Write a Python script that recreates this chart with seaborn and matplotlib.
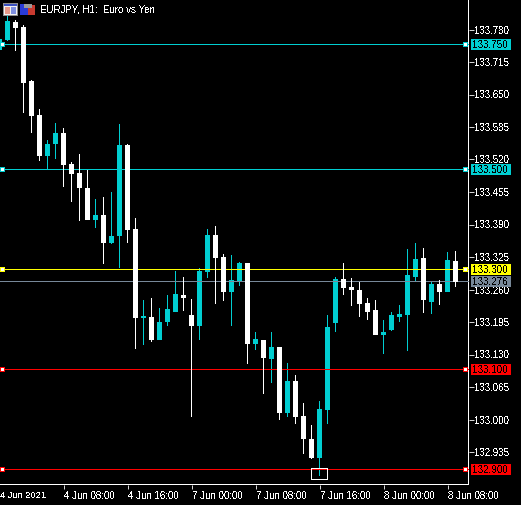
import numpy as np
import pandas as pd
import matplotlib
matplotlib.use("Agg")
import matplotlib.pyplot as plt
from matplotlib.patches import Rectangle
import seaborn as sns

# EURJPY H1 candles
body_high = [133.797, 133.795, 133.785, 133.677, 133.609, 133.551, 133.573, 133.573, 133.511, 133.493,
             133.463, 133.409, 133.409, 133.367, 133.549, 133.549, 133.381, 133.207, 133.205, 133.195,
             133.221, 133.251, 133.249, 133.209, 133.297, 133.369, 133.369, 133.325, 133.279, 133.313,
             133.313, 133.161, 133.159, 133.145, 133.145, 133.077, 133.077, 133.007, 132.961, 133.021,
             133.185, 133.281, 133.281, 133.265, 133.259, 133.233, 133.219, 133.175, 133.209, 133.211,
             133.289, 133.321, 133.323, 133.271, 133.271, 133.319, 133.317]
body_low = [133.759, 133.783, 133.673, 133.607, 133.527, 133.527, 133.551, 133.509, 133.491, 133.463,
            133.399, 133.399, 133.353, 133.353, 133.367, 133.379, 133.203, 133.203, 133.159, 133.159,
            133.195, 133.215, 133.243, 133.187, 133.187, 133.295, 133.323, 133.255, 133.255, 133.275,
            133.151, 133.151, 133.123, 133.121, 133.013, 133.013, 133.005, 132.961, 132.923, 132.923,
            133.019, 133.193, 133.263, 133.259, 133.231, 133.215, 133.169, 133.169, 133.179, 133.205,
            133.209, 133.285, 133.239, 133.235, 133.255, 133.255, 133.275]
highs = [133.807, 133.799, 133.789, 133.679, 133.621, 133.559, 133.593, 133.583, 133.515, 133.531,
         133.499, 133.441, 133.445, 133.455, 133.591, 133.551, 133.403, 133.239, 133.243, 133.223,
         133.249, 133.297, 133.285, 133.241, 133.303, 133.381, 133.387, 133.331, 133.329, 133.315,
         133.313, 133.175, 133.159, 133.175, 133.145, 133.113, 133.089, 133.033, 132.989, 133.037,
         133.209, 133.285, 133.313, 133.283, 133.275, 133.243, 133.239, 133.199, 133.215, 133.229,
         133.341, 133.353, 133.343, 133.275, 133.279, 133.335, 133.337]
lows = [133.757, 133.737, 133.613, 133.573, 133.517, 133.499, 133.521, 133.465, 133.435, 133.397,
        133.399, 133.383, 133.311, 133.351, 133.303, 133.353, 133.141, 133.149, 133.155, 133.159,
        133.187, 133.215, 133.217, 133.005, 133.159, 133.283, 133.231, 133.237, 133.187, 133.267,
        133.111, 133.139, 133.051, 133.073, 132.999, 133.005, 132.991, 132.931, 132.921, 132.887,
        132.991, 133.175, 133.249, 133.227, 133.205, 133.199, 133.169, 133.131, 133.177, 133.195,
        133.137, 133.275, 133.213, 133.211, 133.229, 133.255, 133.265]
# T = teal (up), W = white (down)
candle_type = list("TWWWWTTWWWWTWTTWWTWTTTWWTTWWTTWTWTWTWWWTTTWWWWWTTTTTWTWTW")

y_ticks = [133.780, 133.715, 133.650, 133.585, 133.520, 133.455, 133.390,
           133.325, 133.260, 133.195, 133.130, 133.065, 133.000, 132.935]
time_pos = [-0.94, 7, 15, 23, 31, 39, 47, 55]
time_labels = ["4 Jun 2021", "4 Jun 08:00", "4 Jun 16:00", "7 Jun 00:00",
               "7 Jun 08:00", "7 Jun 16:00", "8 Jun 00:00", "8 Jun 08:00"]

level_prices = [133.750, 133.500, 133.300, 133.100, 132.900]
level_colors = ["#00CED1", "#00CED1", "#FFFF00", "#FF0000", "#FF0000"]
bid_price = 133.276
bid_color = "#778899"

TEAL = "#00CED1"
W, H = 521, 505
AX_W = 468.5
PX_Y = 0.002   # price per pixel

sns.set_style("dark", {"axes.facecolor": "black", "figure.facecolor": "black"})
plt.rcParams["font.family"] = ["Liberation Sans", "DejaVu Sans"]
plt.rcParams["text.antialiased"] = False
plt.rcParams["text.hinting"] = "force_autohint"
plt.rcParams["path.snap"] = False

df = pd.DataFrame({"idx": np.arange(len(highs)), "high": highs, "low": lows,
                   "top": body_high, "bottom": body_low, "kind": candle_type})
df["size"] = df["top"] - df["bottom"]

fig = plt.figure(figsize=(W / 100, H / 100), dpi=100, facecolor="black")
ax = fig.add_axes([0, 20.5 / H, AX_W / W, 484.5 / H], facecolor="black")

# teal goes under the level lines, white on top of them
for kind, color, z in [("T", TEAL, 2), ("W", "white", 4)]:
    part = df[df["kind"] == kind]
    ax.vlines(part["idx"], part["low"], part["high"], color=color, lw=0.55,
              zorder=z, antialiased=False)
    sns.barplot(x=part["idx"].values, y=part["size"].values, bottom=part["bottom"].values,
                native_scale=True, width=0.6, color=color, saturation=1, errorbar=None,
                linewidth=0, antialiased=False, zorder=z, ax=ax)

ax.set_xlim(-7.5 / 8, 461 / 8)
ax.set_ylim(133.839 - 484.5 * PX_Y, 133.839)
ax.set_xlabel("")
ax.set_ylabel("")
ax.grid(False)

# levels and their price tags
yax = ax.get_yaxis_transform()
all_prices = level_prices + [bid_price]
all_colors = level_colors + [bid_color]
for price, color in zip(all_prices, all_colors):
    ax.axhline(price, color=color, lw=0.6, zorder=3, antialiased=False)
    ax.add_patch(Rectangle((471 / AX_W, price - 5.5 * PX_Y), 39.5 / AX_W, 11 * PX_Y,
                           transform=yax, fc=color, ec="none", clip_on=False, zorder=6,
                           antialiased=False))
    ax.text(490.5 / AX_W, price - 0.4 * PX_Y, f"{price:.3f}", transform=yax, ha="center", va="center",
            color="black", fontsize=7.1, clip_on=False, zorder=7)

# drag handles on the level lines, white square with a coloured rim
for price, color in zip(level_prices, level_colors):
    for left in [0, 463]:
        ax.add_patch(Rectangle((left / AX_W, price - 2.5 * PX_Y), 5 / AX_W, 5 * PX_Y, transform=yax,
                               fc=color, ec="none", zorder=5, antialiased=False))
        ax.add_patch(Rectangle(((left + 1) / AX_W, price - 1.5 * PX_Y), 3 / AX_W, 3 * PX_Y, transform=yax,
                               fc="white", ec="none", zorder=5, antialiased=False))
ax.add_patch(Rectangle((0, level_prices[0] - 5.5 * PX_Y), 2 / AX_W, 11 * PX_Y,
                       transform=yax, fc=TEAL, ec="none", zorder=4, antialiased=False))

# selection box around the low
ax.add_patch(Rectangle((38, 132.880), 2, 0.022, fc="none", ec="white", lw=0.6, zorder=6,
                       antialiased=False))

for name, spine in ax.spines.items():
    spine.set_visible(name in ("right", "bottom"))
    spine.set_color("white")
    spine.set_linewidth(0.72)
    spine.set_antialiased(False)

ax.yaxis.tick_right()
ax.set_yticks(y_ticks)
ax.set_yticklabels([f"{v:.3f}" for v in y_ticks])
ax.tick_params(axis="y", colors="white", length=3.4, width=0.6, pad=0.6, labelsize=7.0, right=True, left=False)
ax.set_xticks(time_pos)
ax.set_xticklabels(time_labels, ha="left")
ax.tick_params(axis="x", colors="white", length=3, width=0.6, pad=1.6, labelsize=7.0, bottom=True)
ax.xaxis.get_major_ticks()[0].tick1line.set_visible(False)
ax.get_xticklabels()[0].set_fontsize(6.7)


def icon_rect(x0, y0, x1, y1, color):
    fig.add_artist(Rectangle((x0 / W, 1 - y1 / H), (x1 - x0) / W, (y1 - y0) / H, fc=color, ec="none",
                             transform=fig.transFigure, antialiased=False))


# title icons
icon_rect(3, 3, 18, 16, "#8c8c8c")
icon_rect(4, 4, 17, 15, "#f2f2f2")
icon_rect(4, 4, 17, 6, "#3a50c0")
icon_rect(5, 7, 10, 14, "#e89a8a")
icon_rect(11, 7, 16, 14, "#7f90e0")
icon_rect(20, 4, 28, 15, "#2a3cd8")
icon_rect(28, 5, 35, 15, "#c83a30")
icon_rect(24, 4, 32, 8, "#9a9a9a")
fig.text(40.5 / W, 1 - 10 / H, "EURJPY, H1:  Euro vs Yen", color="white", fontsize=7.0, va="center", ha="left")

fig.savefig("out.png", dpi=100, facecolor="black")
